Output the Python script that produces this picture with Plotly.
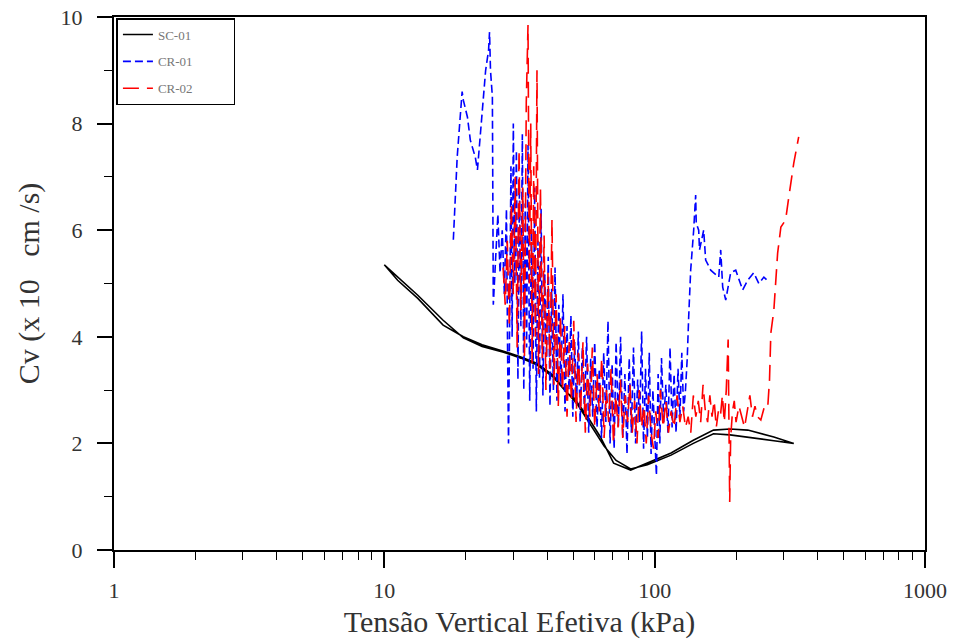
import plotly.graph_objects as go

# SC-01 (loop: loading then return)
sc01_x = [10, 11.2, 13.3, 16.5, 19.6, 23, 27.6, 32, 36.8, 42, 47.6, 50, 56.5, 63, 70.5, 81.5, 94, 115, 139, 165, 190, 221, 276, 327,
          276, 221, 190, 165, 139, 115, 94, 81.5, 72, 65, 58, 52, 47, 42, 36.8, 32, 27.6, 23, 19.6, 16.5, 13.3, 11.2, 10]
sc01_y = [5.35, 5.12, 4.78, 4.31, 3.98, 3.82, 3.71, 3.6, 3.47, 3.25, 2.94, 2.87, 2.5, 2.12, 1.63, 1.5, 1.63, 1.82, 2.06, 2.25, 2.27, 2.25, 2.12, 2.0,
          2.05, 2.12, 2.16, 2.18, 2.0, 1.78, 1.6, 1.52, 1.68, 1.95, 2.35, 2.72, 2.98, 3.28, 3.5, 3.62, 3.73, 3.85, 4.0, 4.22, 4.72, 5.06, 5.35]

# CR-01
cr01_x = [18.0, 18.3, 18.6, 19.0, 19.4, 19.6, 20.3, 20.8, 21.2, 21.7, 22.1, 22.3, 22.7, 23.3, 23.7, 24.3, 24.5, 24.7, 25.1,
          25.3, 25.8, 26.3, 26.8, 27.3, 27.8, 28.3, 28.6, 28.8, 29.1, 29.4, 29.7, 30.0, 30.4, 30.8, 31.2, 31.6, 32.0, 32.4, 32.8,
          33.2, 33.6, 34.0, 34.5, 35.0, 35.5, 36.0, 36.5, 37.0, 37.5, 38.0, 38.6, 39.2, 39.8, 40.4, 41.0, 41.6, 42.2, 42.8, 43.5,
          44.2, 45.0, 45.8, 46.6, 47.4, 48.2, 49.0, 49.8, 50.6, 51.4, 52.2, 53.0, 54.0, 55.0, 56.0, 57.0, 58.0, 59.0, 60.0, 61.2,
          62.4, 63.6, 64.8, 66.0, 67.2, 68.4, 69.6, 70.8, 72.0, 73.4, 74.8, 76.2, 77.6, 79.0, 80.5, 82.0, 83.5, 85.0, 86.5, 88.0,
          89.5, 91.0, 92.5, 94.0, 95.5, 97.0, 98.5, 100.0, 101.5, 103.0, 104.5, 106.0, 108.0, 110.0, 112.0, 114.0, 116.0, 118.0,
          120.0, 122.0, 124.0, 126.0, 128.0, 130.0, 132.0,
          133.6, 135.9, 139.4, 141.8, 142.5, 145.5, 146.5, 151.8, 154.4, 161.2, 165.4, 172.6, 175.5, 178.5, 183.2, 186.4, 191.0,
          199.5, 211.6, 220.9, 232.6, 242.8, 253.5, 264.4]
cr01_y = [5.82, 6.57, 7.37, 8.0, 8.6, 8.44, 8.12, 7.69, 7.56, 7.37, 7.13, 7.37, 7.88, 8.57, 9.0, 9.38, 9.72, 9.0, 8.5,
          4.6, 5.5, 6.3, 5.2, 6.0, 4.8, 6.4, 3.5, 2.0, 4.5, 7.2, 4.0, 8.0, 5.0, 7.5, 3.2, 6.8, 4.2, 7.8, 3.0,
          6.5, 3.8, 7.6, 2.8, 6.0, 3.4, 6.8, 2.6, 5.8, 3.2, 6.4, 2.9, 5.2, 3.6, 5.5, 2.7, 4.9, 3.0, 5.3, 2.8,
          4.6, 3.1, 4.8, 2.6, 4.2, 3.0, 4.4, 2.5, 3.9, 2.7, 4.1, 2.4, 3.8, 2.6, 4.0, 2.2, 3.6, 2.5, 3.9, 2.3,
          3.4, 2.1, 3.7, 2.4, 4.3, 2.0, 3.5, 1.9, 3.9, 2.3, 4.0, 2.1, 3.3, 1.8, 3.6, 2.2, 3.8, 2.0, 3.2, 2.4,
          4.1, 1.9, 3.4, 2.1, 3.7, 1.8, 3.0, 2.2, 1.4, 3.3, 2.0, 3.6, 2.4, 3.1, 2.2, 3.8, 2.3, 3.3,
          2.2, 3.4, 2.5, 3.7, 2.6, 3.0, 3.6,
          4.37, 5.25, 6.0, 6.66, 6.13, 6.0, 5.63, 6.0, 5.44, 5.25, 5.2, 5.12, 5.63, 4.93, 4.69, 4.88, 5.2,
          5.25, 4.88, 5.06, 5.2, 5.0, 5.12, 5.03]

# CR-02
cr02_x = [27.5, 28.0, 28.5, 29.0, 29.5, 30.0, 30.5, 31.0, 31.5, 32.0, 32.5, 33.0, 33.5, 34.0, 34.4, 34.8, 35.2, 35.7, 36.2,
          36.7, 37.2, 37.8, 38.4, 39.0, 39.6, 40.3, 41.0, 41.7, 42.4, 43.2, 44.0, 44.8, 45.6, 46.5, 47.4, 48.3, 49.2, 50.2,
          51.2, 52.2, 53.2, 54.3, 55.4, 56.5, 57.6, 58.8, 60.0, 61.2, 62.4, 63.7, 65.0, 66.3, 67.6, 69.0, 70.4, 71.8, 73.2,
          74.7, 76.2, 77.8, 79.4, 81.0, 82.6, 84.3, 86.0, 87.7, 89.5, 91.3, 93.1, 95.0, 97.0, 99.0, 101.0, 103.0, 105.0,
          107.5, 110.0, 112.5, 115.0, 118.0, 121.0, 124.0, 127.0, 130.0, 133.0, 136.0, 139.0, 142.0, 145.0, 148.0, 151.0,
          154.0, 157.0, 160.0, 163.0, 166.0, 169.0, 172.0, 175.0, 178.0, 181.0, 184.0, 187.0, 188.0, 189.5, 191.0, 194.0,
          197.0, 200.0, 205.0, 210.0, 215.0, 220.0, 225.0, 230.0, 235.0, 240.0, 247.0, 255.0, 262.0, 266.0, 269.0, 276.0,
          285.0, 293.0, 305.0, 313.0, 327.0, 341.0]
cr02_y = [5.3, 4.6, 5.8, 4.2, 6.5, 4.8, 7.0, 3.8, 7.5, 4.5, 6.8, 3.6, 8.4, 9.85, 5.0, 8.0, 3.5, 7.2, 4.0,
          9.0, 3.3, 6.8, 3.6, 5.9, 3.0, 5.2, 3.4, 6.2, 3.1, 4.8, 2.7, 4.4, 3.0, 4.2, 2.5, 3.9, 2.8, 4.3,
          2.4, 3.7, 2.6, 3.9, 2.2, 3.5, 2.5, 3.8, 2.3, 3.3, 2.6, 3.6, 2.1, 3.0, 2.4, 3.4, 2.0, 2.9, 2.3,
          3.2, 2.1, 2.9, 2.4, 3.1, 2.2, 2.8, 2.0, 3.0, 2.3, 2.7, 2.0, 2.9, 2.2, 1.9, 2.6, 2.1, 3.0,
          2.3, 2.8, 2.2, 2.6, 2.3, 2.9, 2.4, 2.7, 2.3, 2.5, 2.2, 2.9, 2.5, 2.8, 2.4, 3.1,
          2.6, 2.4, 2.9, 2.5, 2.8, 2.3, 2.6, 2.5, 2.9, 2.4, 3.0, 3.95, 2.2, 0.9, 2.1, 2.6,
          2.8, 2.4, 2.7, 2.5, 2.3, 2.6, 2.9, 2.5, 2.7, 2.5, 2.44, 2.7, 2.68, 3.2, 4.07, 4.5,
          5.57, 6.06, 6.19, 6.6, 7.26, 7.75]

series_names = ["SC-01", "CR-01", "CR-02"]

x_tickvals = [1, 10, 100, 1000]
x_ticktext = ["1", "10", "100", "1000"]
y_tickvals = [0, 2, 4, 6, 8, 10]

serif = "Liberation Serif"
pad = "\u00a0" * 11

fig = go.Figure()
fig.add_trace(go.Scatter(x=sc01_x, y=sc01_y, mode="lines", name=series_names[0] + pad, legendgroup="a",
                         line=dict(color="black", width=1.6)))
fig.add_trace(go.Scatter(x=cr01_x, y=cr01_y, mode="lines", name=series_names[1] + pad, legendgroup="b",
                         line=dict(color="#0000ff", width=1.6, dash="8px,4px")))
fig.add_trace(go.Scatter(x=cr02_x, y=cr02_y, mode="lines", name=series_names[2] + pad, legendgroup="c",
                         line=dict(color="#ff0000", width=1.6, dash="16px,8px")))

fig.update_layout(
    width=955, height=639,
    margin=dict(l=114, r=30, t=17, b=89, autoexpand=False),
    plot_bgcolor="white", paper_bgcolor="white",
    font=dict(family=serif, color="#333333"),
    showlegend=True,
    legend=dict(x=0.003, y=0.998, xanchor="left", yanchor="top",
                bgcolor="white", bordercolor="black", borderwidth=1.5,
                font=dict(family=serif, size=13, color="#777777"),
                tracegroupgap=7, traceorder="grouped"),
)
fig.update_xaxes(
    type="log", range=[0, 3], automargin=False,
    tickvals=x_tickvals, ticktext=x_ticktext,
    ticks="outside", ticklen=16, tickwidth=1.5, tickcolor="black",
    minor=dict(ticks="outside", ticklen=8, tickwidth=1.2, tickcolor="black", dtick="D1", showgrid=False),
    showline=True, linecolor="black", linewidth=2, mirror=True,
    showgrid=False, zeroline=False,
    tickfont=dict(family=serif, size=22, color="#333333"),
    ticklabelstandoff=4,
    title=dict(text="Tensão Vertical Efetiva (kPa)", font=dict(family=serif, size=30, color="#333333"), standoff=12),
)
fig.update_yaxes(
    range=[0, 10], automargin=False,
    tickvals=y_tickvals,
    ticks="outside", ticklen=15, tickwidth=1.5, tickcolor="black",
    minor=dict(ticks="outside", ticklen=8, tickwidth=1.2, tickcolor="black", dtick=1, showgrid=False),
    showline=True, linecolor="black", linewidth=2, mirror=True,
    showgrid=False, zeroline=False,
    tickfont=dict(family=serif, size=22, color="#333333"),
    ticklabelstandoff=10,
    title=dict(text="Cv (x 10   cm /s)", font=dict(family=serif, size=30, color="#333333"), standoff=12),
)

fig.write_html("out.html")
